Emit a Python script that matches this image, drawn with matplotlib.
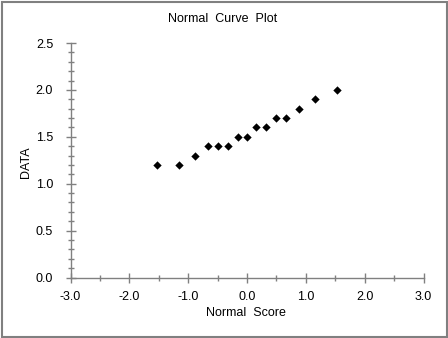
import matplotlib
matplotlib.use("Agg")
import matplotlib.pyplot as plt
from matplotlib.ticker import MultipleLocator, FormatStrFormatter
from matplotlib.patches import Rectangle

normal_score = [-1.53, -1.15, -0.89, -0.67, -0.49, -0.32, -0.16, 0.0,
                0.16, 0.32, 0.49, 0.67, 0.89, 1.15, 1.53]
data = [1.2, 1.2, 1.3, 1.4, 1.4, 1.4, 1.5, 1.5,
        1.6, 1.6, 1.7, 1.7, 1.8, 1.9, 2.0]

title = "Normal  Curve  Plot"
xlabel = "Normal  Score"
ylabel = "DATA"

plt.rcParams['font.family'] = ['Liberation Sans', 'DejaVu Sans']

fig = plt.figure(figsize=(4.48, 3.38), dpi=100)
fig.patch.set_facecolor('white')
fig.patches.append(Rectangle((1.5/448, 1.5/338), 1 - 3/448, 1 - 3/338,
                             transform=fig.transFigure, fill=False,
                             edgecolor='#808080', linewidth=1.5))

ax = fig.add_axes([70.5/448, 1 - 277.5/338, (423.5 - 70.5)/448, (277.5 - 43)/338])
ax.scatter(normal_score, data, marker='D', s=18, color='black', zorder=3,
           clip_on=False, linewidths=0)

ax.set_xlim(-3.0, 3.0)
ax.set_ylim(0.0, 2.5)
ax.xaxis.set_major_locator(MultipleLocator(1.0))
ax.xaxis.set_minor_locator(MultipleLocator(0.5))
ax.yaxis.set_major_locator(MultipleLocator(0.5))
ax.yaxis.set_minor_locator(MultipleLocator(0.1))
ax.xaxis.set_major_formatter(FormatStrFormatter('%.1f'))
ax.yaxis.set_major_formatter(FormatStrFormatter('%.1f'))

for s in ['top', 'right']:
    ax.spines[s].set_visible(False)
for s in ['left', 'bottom']:
    ax.spines[s].set_color('#808080')
    ax.spines[s].set_linewidth(1.0)

ax.tick_params(axis='both', which='both', direction='inout', color='#808080',
               labelsize=9, labelcolor='black', width=1.0)
ax.tick_params(axis='y', which='major', length=7, pad=9)
ax.tick_params(axis='y', which='minor', length=5)
ax.tick_params(axis='x', which='major', length=7, pad=6)
ax.tick_params(axis='x', which='minor', length=5)

fig.text(223/448, 1 - 19/338, title, ha='center', va='center', fontsize=9)
fig.text(246/448, 1 - 313/338, xlabel, ha='center', va='center', fontsize=9)
fig.text(26/448, 1 - 162/338, ylabel, ha='center', va='center', fontsize=9,
         rotation=90)

fig.savefig("out.png", dpi=100, facecolor='white')
